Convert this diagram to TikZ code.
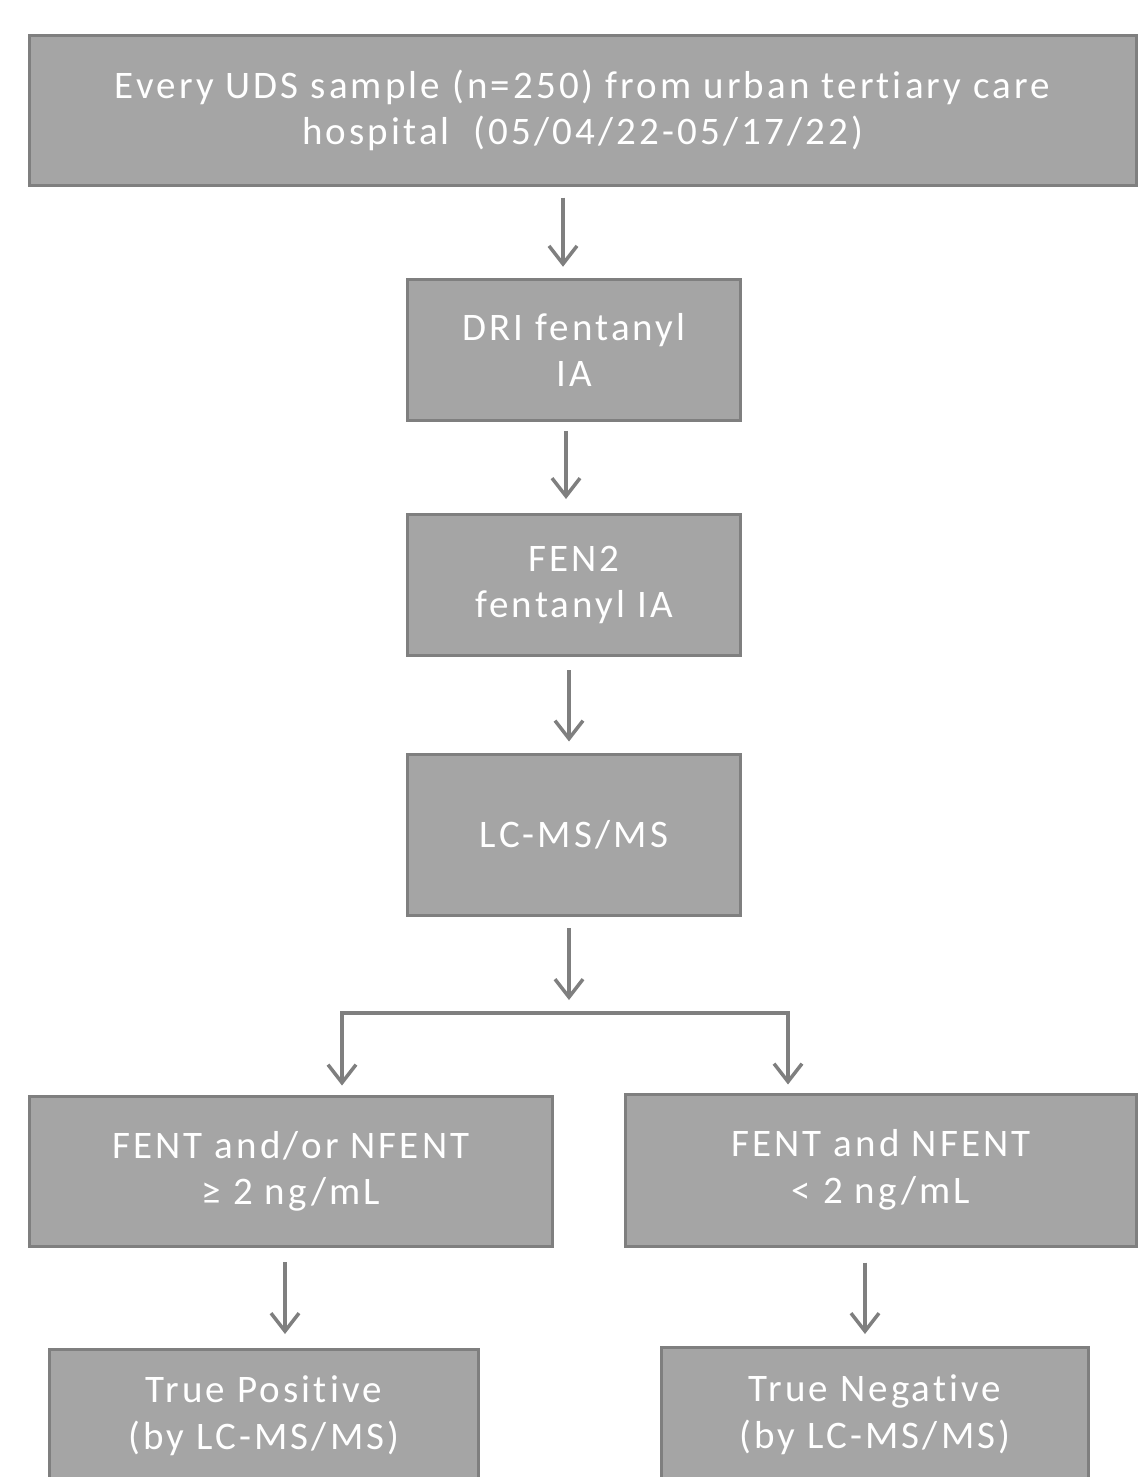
\documentclass[tikz,border=0pt]{standalone}
\usepackage{fontspec}
\setmainfont[Ligatures=NoCommon,LetterSpace=8]{Carlito}
\usetikzlibrary{arrows.meta,calc}
\definecolor{boxfill}{HTML}{A5A5A5}
\definecolor{boxline}{HTML}{7F7F7F}
\tikzset{
  flowbox/.style={draw=boxline, line width=3pt, fill=boxfill, text=white,
    inner sep=0pt, align=center, font=\fontsize{39}{46.5}\selectfont},
  arr/.style={draw=boxline, line width=3.5pt,
    -{Straight Barb[length=18pt,width=28pt]}},
  conn/.style={draw=boxline, line width=3.5pt}
}
\begin{document}
\begin{tikzpicture}[x=1pt,y=-1pt]
\useasboundingbox (0,0) rectangle (1139,1477);
\node[flowbox, minimum width=1107pt, minimum height=149pt] (top) at (582.5,110.5)
  {Every UDS sample (n=250) from urban tertiary care\\hospital~~(05/04/22-05/17/22)};
\node[flowbox, minimum width=333pt, minimum height=140.5pt] (dri) at (574,350)
  {DRI fentanyl\\IA};
\node[flowbox, minimum width=333pt, minimum height=141pt] (fen) at (574,585)
  {FEN2\\fentanyl IA};
\node[flowbox, minimum width=333pt, minimum height=161pt] (lcms) at (574,834.5)
  {LC-MS/MS};
\node[flowbox, minimum width=523pt, minimum height=150pt] (pos) at (291,1171.5)
  {FENT and/or NFENT\\≥ 2 ng/mL};
\node[flowbox, minimum width=511pt, minimum height=152pt] (neg) at (881,1170)
  {FENT and NFENT\\< 2 ng/mL};
\node[flowbox, minimum width=429pt, minimum height=132.5pt] (tp) at (264,1415.75)
  {True Positive\\(by LC-MS/MS)};
\node[flowbox, minimum width=427pt, minimum height=134.5pt] (tn) at (875,1414.75)
  {True Negative\\(by LC-MS/MS)};

\coordinate (c1) at ([xshift=-11pt]dri.north);
\coordinate (c2) at ([xshift=-8pt]fen.north);
\coordinate (c3) at ([xshift=-5pt]lcms.north);
\coordinate (c4) at ([xshift=-5pt]lcms.south);
\coordinate (sl) at (342,1013);
\coordinate (sr) at (788,1013);
\coordinate (c5) at ([xshift=21pt]tp.north);
\coordinate (c6) at ([xshift=-10pt]tn.north);

\draw[arr, shorten <=11pt, shorten >=11.5pt] (c1 |- top.south) -- (c1);
\draw[arr, shorten <=9pt, shorten >=14pt] (c2 |- dri.south) -- (c2);
\draw[arr, shorten <=13pt, shorten >=11pt] (c3 |- fen.south) -- (c3);
\draw[arr, shorten <=11.5pt, shorten >=13pt] (c4) -- (c4 |- sl);
\draw[conn] ([xshift=-1.75pt]sl) -- ([xshift=1.75pt]sr);
\draw[arr, shorten >=9.5pt] (sl) -- (sl |- pos.north);
\draw[arr, shorten >=8pt] (sr) -- (sr |- neg.north);
\draw[arr, shorten <=14pt, shorten >=14pt] (c5 |- pos.south) -- (c5);
\draw[arr, shorten <=15pt, shorten >=12pt] (c6 |- neg.south) -- (c6);
\end{tikzpicture}
\end{document}
